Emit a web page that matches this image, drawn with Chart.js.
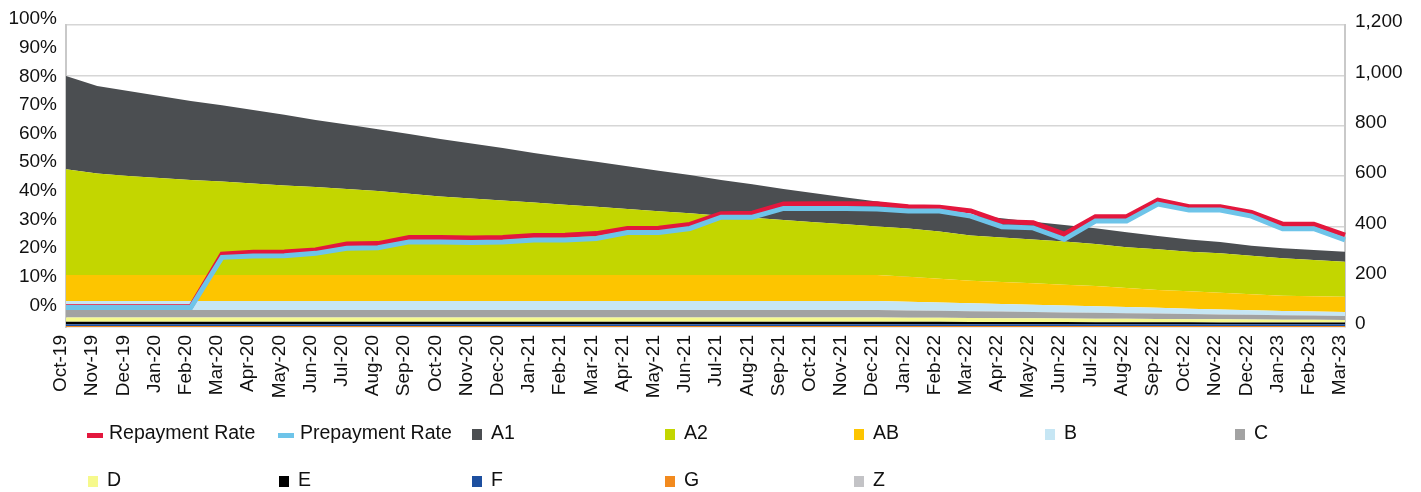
<!DOCTYPE html>
<html>
<head>
<meta charset="utf-8">
<title>Repayment / Prepayment Rate</title>
<script src="https://cdn.jsdelivr.net/npm/chart.js@4.4.0/dist/chart.umd.min.js"></script>
<style>
  body { margin: 0; background: #fff; }
  #wrap { position: relative; width: 1421px; height: 492px; }
  .lg-text { position: absolute; font: 19.5px "Liberation Sans", Arial, sans-serif; color: #111; line-height: 22px; white-space: nowrap; }
  .lg-mark { position: absolute; }
</style>
</head>
<body>
<div id="wrap">
  <canvas id="chart" width="1421" height="492"></canvas>
  <div id="legend"></div>
</div>
<script>
// categories (x axis)
const months = ['Oct-19','Nov-19','Dec-19','Jan-20','Feb-20','Mar-20','Apr-20','May-20','Jun-20','Jul-20',
  'Aug-20','Sep-20','Oct-20','Nov-20','Dec-20','Jan-21','Feb-21','Mar-21','Apr-21','May-21','Jun-21',
  'Jul-21','Aug-21','Sep-21','Oct-21','Nov-21','Dec-21','Jan-22','Feb-22','Mar-22','Apr-22','May-22',
  'Jun-22','Jul-22','Aug-22','Sep-22','Oct-22','Nov-22','Dec-22','Jan-23','Feb-23','Mar-23'];

// rates in % (left axis)
const repaymentRate = [0.3,0.3,0.3,0.3,0.3,18.6,19.3,19.4,20.1,22.2,22.3,24.4,24.4,24.3,24.4,25.1,25.2,25.8,27.6,27.7,29.0,
  32.7,32.9,36.1,36.2,36.2,36.2,35.2,35.0,33.7,29.9,29.6,25.6,31.7,31.7,37.5,35.2,35.2,33.2,29.1,29.1,25.3];
const prepaymentRate = [0,0,0,0,0,17.5,18.0,18.1,18.9,20.7,20.9,22.9,22.9,22.7,22.9,23.6,23.6,24.1,26.2,26.2,27.6,
  31.5,31.5,34.6,34.6,34.6,34.4,33.7,33.7,31.9,28.2,27.8,23.8,30.2,30.2,36.1,34.0,34.0,31.9,27.5,27.5,23.6];

// outstanding by grade (right axis, stacked)
const a1 = [370,348,338,326,314,303,292,281,267,257,246,238,228,218,208,196,188,179,170,161,152,
  142,133,123,115,107,100,90,86,81,76,70,65,62,59,53,49,45,40,40,40,40];
const a2 = [420,403,393,385,377,371,363,355,349,341,333,322,312,304,296,288,279,271,262,253,245,
  235,227,218,209,201,192,191,187,180,177,174,172,167,162,162,157,157,153,149,144,139];
const ab = [104,104,104,104,104,104,104,104,104,104,104,104,104,104,104,104,104,104,104,104,104,
  104,104,104,104,104,104,100,95,90,88,86,83,81,76,71,69,66,63,60,60,60];
const b = [35,35,35,35,35,35,35,35,35,35,35,35,35,35,35,35,35,35,35,35,35,
  35,35,35,35,35,35,34,32,31,29,28,27,25,24,22,21,20,18,17,16,16];
const c = [30,30,30,30,30,30,30,30,30,30,30,30,30,30,30,30,30,30,30,30,30,
  30,30,30,30,30,30,29,28,27,27,25,24,24,22,22,21,19,19,18,17,16];
const d = [17,17,17,17,17,17,17,17,17,17,17,17,17,17,17,17,17,17,17,17,17,
  17,17,17,17,17,17,16,16,16,15,15,14,14,14,13,12,13,12,11,11,10];
const e = [10,10,10,10,10,10,10,10,10,10,10,10,10,10,10,10,10,10,10,10,10,
  10,10,10,10,10,10,10,10,9,9,9,9,8,8,8,8,7,7,7,7,7];
const f = [7,7,7,7,7,7,7,7,7,7,7,7,7,7,7,7,7,7,7,7,7,
  7,7,7,7,7,7,7,7,7,7,7,7,7,7,7,7,7,7,7,7,7];
const g = [4,4,4,4,4,4,4,4,4,4,4,4,4,4,4,4,4,4,4,4,4,
  4,4,4,4,4,4,4,4,4,4,4,4,4,4,4,4,4,4,4,4,4];
const z = [0,0,0,0,0,0,0,0,0,0,0,0,0,0,0,0,0,0,0,0,0,
  0,0,0,0,0,0,0,0,0,0,0,0,0,0,0,0,0,0,0,0,0];

// tick labels
const pctTicks = [0,10,20,30,40,50,60,70,80,90,100];
const amountTicks = [0,200,400,600,800,1000,1200];

const font = { family: "'Liberation Sans', Arial, sans-serif", size: 19 };
const textColor = '#111';

// area series, bottom of the stack first
const grades = [
  { label: 'Z',  data: z,  color: '#c3c3c6' },
  { label: 'G',  data: g,  color: '#f28a1e' },
  { label: 'F',  data: f,  color: '#1d4f9f' },
  { label: 'E',  data: e,  color: '#000000' },
  { label: 'D',  data: d,  color: '#f6f98c' },
  { label: 'C',  data: c,  color: '#a2a2a2' },
  { label: 'B',  data: b,  color: '#c6e6f4' },
  { label: 'AB', data: ab, color: '#fdc500' },
  { label: 'A2', data: a2, color: '#c3d600' },
  { label: 'A1', data: a1, color: '#4b4e51' }
];

const datasets = [
  { label: 'Prepayment Rate', data: prepaymentRate, yAxisID: 'y', borderColor: '#6ec4e9', borderWidth: 5,
    pointRadius: 0, tension: 0, fill: false, order: 0, borderJoinStyle: 'miter' },
  { label: 'Repayment Rate', data: repaymentRate, yAxisID: 'y', borderColor: '#e3173d', borderWidth: 5,
    pointRadius: 0, tension: 0, fill: false, order: 1, borderJoinStyle: 'miter' }
];
grades.forEach((gr, i) => {
  datasets.push({
    label: gr.label, data: gr.data, yAxisID: 'y2',
    backgroundColor: gr.color, borderColor: 'rgba(0,0,0,0)', borderWidth: 0,
    pointRadius: 0, tension: 0, order: 10,
    fill: i === 0 ? 'origin' : '-1'
  });
});

new Chart(document.getElementById('chart'), {
  type: 'line',
  data: { labels: months, datasets: datasets },
  options: {
    responsive: false,
    animation: false,
    devicePixelRatio: 1,
    layout: { padding: { top: 25, left: 0, right: 0, bottom: 0 } },
    plugins: { legend: { display: false }, tooltip: { enabled: false } },
    scales: {
      x: {
        grid: { display: false },
        border: { display: false },
        ticks: { autoSkip: false, minRotation: 90, maxRotation: 90, padding: 0, labelOffset: -5, font: font, color: textColor },
        afterFit: axis => { axis.height = 165; }
      },
      y: {
        position: 'left',
        min: -6.8,
        max: 98.6,
        grid: { display: false },
        border: { color: '#c9c9c9', width: 2 },
        afterBuildTicks: axis => { axis.ticks = pctTicks.map(v => ({ value: v })); },
        afterFit: axis => { axis.width = 66; },
        ticks: { autoSkip: false, padding: 1, labelOffset: -2, font: font, color: textColor,
          callback: v => v + '%' }
      },
      y2: {
        position: 'right',
        stacked: true,
        min: 0,
        max: 1200,
        grid: { color: '#d6d6d6', lineWidth: 1.5, drawTicks: false },
        border: { color: '#c9c9c9', width: 2 },
        afterBuildTicks: axis => { axis.ticks = amountTicks.map(v => ({ value: v })); },
        afterFit: axis => { axis.width = 76; },
        ticks: { autoSkip: false, padding: 10, labelOffset: -3, font: font, color: textColor,
          callback: v => v.toLocaleString('en-US') }
      }
    }
  }
});

// legend: 7 columns, 2 rows like the original
const legendItems = [
  { label: 'Repayment Rate', color: '#e3173d', line: true },
  { label: 'Prepayment Rate', color: '#6ec4e9', line: true }
];
grades.slice().reverse().forEach(gr => legendItems.push({ label: gr.label, color: gr.color }));

const legendCols = [87, 278, 471, 664, 853, 1044, 1234];
const legendRows = [432, 479];
const legend = document.getElementById('legend');
legendItems.forEach((it, i) => {
  const x = legendCols[i % 7];
  const y = legendRows[Math.floor(i / 7)];
  const mark = document.createElement('div');
  mark.className = 'lg-mark';
  mark.style.background = it.color;
  if (it.line) {
    mark.style.left = x + 'px'; mark.style.top = (y + 1) + 'px';
    mark.style.width = '16px'; mark.style.height = '5px';
  } else {
    mark.style.left = (x + 1) + 'px'; mark.style.top = (y - 3) + 'px';
    mark.style.width = '10px'; mark.style.height = '11px';
  }
  legend.appendChild(mark);
  const txt = document.createElement('span');
  txt.className = 'lg-text';
  txt.textContent = it.label;
  txt.style.left = (x + (it.line ? 22 : 20)) + 'px';
  txt.style.top = (y - 11) + 'px';
  legend.appendChild(txt);
});
</script>
</body>
</html>
